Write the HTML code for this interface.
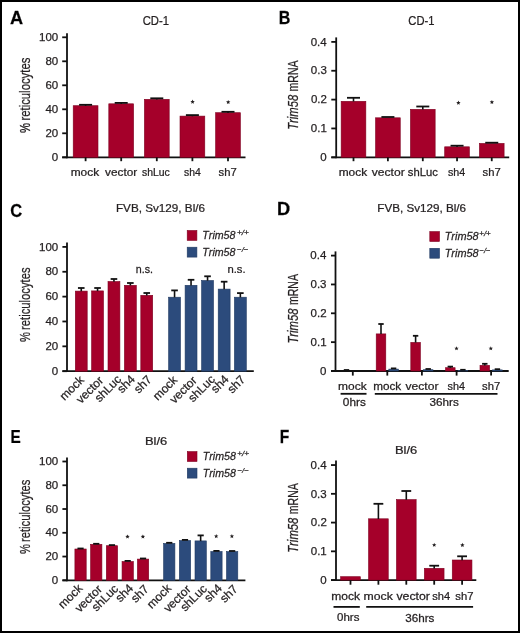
<!DOCTYPE html>
<html><head><meta charset="utf-8"><style>
html,body{margin:0;padding:0;background:#fff;}
body{width:520px;height:633px;overflow:hidden;}
svg{display:block;font-family:"Liberation Sans", sans-serif;font-kerning:none;will-change:transform;}
text{stroke:#231f20;stroke-width:0.25px;}
</style></head><body>
<svg width="520" height="633" viewBox="0 0 520 633">
<rect x="0" y="0" width="520" height="633" fill="#fff"/>
<rect x="1" y="1" width="518" height="631" fill="none" stroke="#000" stroke-width="2"/>
<text transform="translate(9.95,23.70) scale(1.0216,1)" font-size="17.8" font-weight="bold" fill="#000">A</text>
<text transform="translate(278.73,23.70) scale(0.9028,1)" font-size="17.8" font-weight="bold" fill="#000">B</text>
<text transform="translate(10.32,216.90) scale(0.9280,1)" font-size="17.8" font-weight="bold" fill="#000">C</text>
<text transform="translate(276.88,214.50) scale(1.0260,1)" font-size="17.8" font-weight="bold" fill="#000">D</text>
<text transform="translate(10.47,442.80) scale(0.8612,1)" font-size="17.8" font-weight="bold" fill="#000">E</text>
<text transform="translate(279.86,442.60) scale(0.8748,1)" font-size="17.8" font-weight="bold" fill="#000">F</text>
<line x1="67.00" y1="33.30" x2="67.00" y2="158.20" stroke="#111" stroke-width="1.8"/>
<line x1="62.20" y1="157.30" x2="67.00" y2="157.30" stroke="#111" stroke-width="1.8"/>
<text transform="translate(51.85,161.00) scale(1.0000,1)" font-size="11.5"  fill="#231f20">0</text>
<line x1="62.20" y1="133.30" x2="67.00" y2="133.30" stroke="#111" stroke-width="1.8"/>
<text transform="translate(45.46,137.00) scale(1.0000,1)" font-size="11.5"  fill="#231f20">20</text>
<line x1="62.20" y1="109.30" x2="67.00" y2="109.30" stroke="#111" stroke-width="1.8"/>
<text transform="translate(45.46,113.00) scale(1.0000,1)" font-size="11.5"  fill="#231f20">40</text>
<line x1="62.20" y1="85.30" x2="67.00" y2="85.30" stroke="#111" stroke-width="1.8"/>
<text transform="translate(45.46,89.00) scale(1.0000,1)" font-size="11.5"  fill="#231f20">60</text>
<line x1="62.20" y1="61.30" x2="67.00" y2="61.30" stroke="#111" stroke-width="1.8"/>
<text transform="translate(45.46,65.00) scale(1.0000,1)" font-size="11.5"  fill="#231f20">80</text>
<line x1="62.20" y1="37.30" x2="67.00" y2="37.30" stroke="#111" stroke-width="1.8"/>
<text transform="translate(39.06,41.00) scale(1.0000,1)" font-size="11.5"  fill="#231f20">100</text>
<line x1="62.20" y1="157.30" x2="245.50" y2="157.30" stroke="#111" stroke-width="1.8"/>
<rect x="73.20" y="105.70" width="24.80" height="51.60" fill="#a5002a" stroke="#7e0020" stroke-width="0.6"/>
<line x1="85.60" y1="104.80" x2="85.60" y2="105.90" stroke="#111" stroke-width="1.6"/>
<line x1="79.10" y1="104.80" x2="92.10" y2="104.80" stroke="#111" stroke-width="1.8"/>
<line x1="85.60" y1="157.30" x2="85.60" y2="161.20" stroke="#111" stroke-width="1.8"/>
<rect x="108.80" y="103.80" width="24.80" height="53.50" fill="#a5002a" stroke="#7e0020" stroke-width="0.6"/>
<line x1="121.20" y1="102.90" x2="121.20" y2="104.00" stroke="#111" stroke-width="1.6"/>
<line x1="114.70" y1="102.90" x2="127.70" y2="102.90" stroke="#111" stroke-width="1.8"/>
<line x1="121.20" y1="157.30" x2="121.20" y2="161.20" stroke="#111" stroke-width="1.8"/>
<rect x="144.40" y="99.30" width="24.80" height="58.00" fill="#a5002a" stroke="#7e0020" stroke-width="0.6"/>
<line x1="156.80" y1="98.30" x2="156.80" y2="99.50" stroke="#111" stroke-width="1.6"/>
<line x1="150.30" y1="98.30" x2="163.30" y2="98.30" stroke="#111" stroke-width="1.8"/>
<line x1="156.80" y1="157.30" x2="156.80" y2="161.20" stroke="#111" stroke-width="1.8"/>
<rect x="180.00" y="116.10" width="24.80" height="41.20" fill="#a5002a" stroke="#7e0020" stroke-width="0.6"/>
<line x1="192.40" y1="115.10" x2="192.40" y2="116.30" stroke="#111" stroke-width="1.6"/>
<line x1="185.90" y1="115.10" x2="198.90" y2="115.10" stroke="#111" stroke-width="1.8"/>
<line x1="192.40" y1="157.30" x2="192.40" y2="161.20" stroke="#111" stroke-width="1.8"/>
<rect x="215.60" y="112.70" width="24.80" height="44.60" fill="#a5002a" stroke="#7e0020" stroke-width="0.6"/>
<line x1="228.00" y1="111.80" x2="228.00" y2="112.90" stroke="#111" stroke-width="1.6"/>
<line x1="221.50" y1="111.80" x2="234.50" y2="111.80" stroke="#111" stroke-width="1.8"/>
<line x1="228.00" y1="157.30" x2="228.00" y2="161.20" stroke="#111" stroke-width="1.8"/>
<text transform="translate(70.71,176.20) scale(1.0835,1)" font-size="11"  fill="#231f20">mock</text>
<text transform="translate(105.06,176.20) scale(1.0728,1)" font-size="11"  fill="#231f20">vector</text>
<text transform="translate(141.91,176.20) scale(0.9493,1)" font-size="11"  fill="#231f20">shLuc</text>
<text transform="translate(184.01,176.20) scale(0.9470,1)" font-size="11"  fill="#231f20">sh4</text>
<text transform="translate(218.59,176.20) scale(1.0251,1)" font-size="11"  fill="#231f20">sh7</text>
<polygon points="192.60,99.60 193.21,101.06 194.79,101.19 193.58,102.22 193.95,103.76 192.60,102.94 191.25,103.76 191.62,102.22 190.41,101.19 191.99,101.06" fill="#231f20"/>
<polygon points="228.20,99.90 228.81,101.36 230.39,101.49 229.18,102.52 229.55,104.06 228.20,103.23 226.85,104.06 227.22,102.52 226.01,101.49 227.59,101.36" fill="#231f20"/>
<text transform="translate(142.63,25.00) scale(0.9401,1)" font-size="12"  fill="#231f20">CD-1</text>
<text transform="translate(29.80,120.55) rotate(-90) scale(0.7807,1)" fill="#231f20"><tspan  font-size="14.5">reticulocytes</tspan></text>
<text transform="translate(29.90,132.90) rotate(-90) scale(0.7499,1)" fill="#231f20"><tspan  font-size="15">%</tspan></text>
<line x1="336.20" y1="37.40" x2="336.20" y2="158.20" stroke="#111" stroke-width="1.8"/>
<line x1="331.30" y1="157.30" x2="336.20" y2="157.30" stroke="#111" stroke-width="1.8"/>
<text transform="translate(320.35,161.00) scale(1.0000,1)" font-size="11.5"  fill="#231f20">0</text>
<line x1="331.30" y1="128.45" x2="336.20" y2="128.45" stroke="#111" stroke-width="1.8"/>
<text transform="translate(310.87,132.15) scale(1.0000,1)" font-size="11.5"  fill="#231f20">0.1</text>
<line x1="331.30" y1="99.60" x2="336.20" y2="99.60" stroke="#111" stroke-width="1.8"/>
<text transform="translate(310.89,103.30) scale(1.0000,1)" font-size="11.5"  fill="#231f20">0.2</text>
<line x1="331.30" y1="70.75" x2="336.20" y2="70.75" stroke="#111" stroke-width="1.8"/>
<text transform="translate(310.82,74.45) scale(1.0000,1)" font-size="11.5"  fill="#231f20">0.3</text>
<line x1="331.30" y1="41.90" x2="336.20" y2="41.90" stroke="#111" stroke-width="1.8"/>
<text transform="translate(310.65,45.60) scale(1.0000,1)" font-size="11.5"  fill="#231f20">0.4</text>
<line x1="331.30" y1="157.30" x2="509.20" y2="157.30" stroke="#111" stroke-width="1.8"/>
<rect x="341.15" y="101.30" width="24.70" height="56.00" fill="#a5002a" stroke="#7e0020" stroke-width="0.6"/>
<line x1="353.50" y1="97.80" x2="353.50" y2="101.50" stroke="#111" stroke-width="1.6"/>
<line x1="347.00" y1="97.80" x2="360.00" y2="97.80" stroke="#111" stroke-width="1.8"/>
<line x1="353.50" y1="157.30" x2="353.50" y2="161.20" stroke="#111" stroke-width="1.8"/>
<rect x="375.55" y="117.80" width="24.70" height="39.50" fill="#a5002a" stroke="#7e0020" stroke-width="0.6"/>
<line x1="381.40" y1="117.00" x2="394.40" y2="117.00" stroke="#111" stroke-width="1.8"/>
<line x1="387.90" y1="157.30" x2="387.90" y2="161.20" stroke="#111" stroke-width="1.8"/>
<rect x="410.45" y="109.30" width="24.70" height="48.00" fill="#a5002a" stroke="#7e0020" stroke-width="0.6"/>
<line x1="422.80" y1="106.50" x2="422.80" y2="109.50" stroke="#111" stroke-width="1.6"/>
<line x1="416.30" y1="106.50" x2="429.30" y2="106.50" stroke="#111" stroke-width="1.8"/>
<line x1="422.80" y1="157.30" x2="422.80" y2="161.20" stroke="#111" stroke-width="1.8"/>
<rect x="444.70" y="146.80" width="24.70" height="10.50" fill="#a5002a" stroke="#7e0020" stroke-width="0.6"/>
<line x1="457.05" y1="145.70" x2="457.05" y2="147.00" stroke="#111" stroke-width="1.6"/>
<line x1="450.55" y1="145.70" x2="463.55" y2="145.70" stroke="#111" stroke-width="1.8"/>
<line x1="457.05" y1="157.30" x2="457.05" y2="161.20" stroke="#111" stroke-width="1.8"/>
<rect x="479.40" y="143.40" width="24.70" height="13.90" fill="#a5002a" stroke="#7e0020" stroke-width="0.6"/>
<line x1="485.25" y1="142.70" x2="498.25" y2="142.70" stroke="#111" stroke-width="1.8"/>
<line x1="491.75" y1="157.30" x2="491.75" y2="161.20" stroke="#111" stroke-width="1.8"/>
<text transform="translate(338.71,176.20) scale(1.0835,1)" font-size="11"  fill="#231f20">mock</text>
<text transform="translate(371.76,176.20) scale(1.0997,1)" font-size="11"  fill="#231f20">vector</text>
<text transform="translate(407.79,176.20) scale(1.0224,1)" font-size="11"  fill="#231f20">shLuc</text>
<text transform="translate(448.00,176.20) scale(0.9762,1)" font-size="11"  fill="#231f20">sh4</text>
<text transform="translate(482.59,176.20) scale(1.0251,1)" font-size="11"  fill="#231f20">sh7</text>
<polygon points="458.40,100.60 459.01,102.06 460.59,102.19 459.38,103.22 459.75,104.76 458.40,103.94 457.05,104.76 457.42,103.22 456.21,102.19 457.79,102.06" fill="#231f20"/>
<polygon points="491.90,99.90 492.51,101.36 494.09,101.49 492.88,102.52 493.25,104.06 491.90,103.23 490.55,104.06 490.92,102.52 489.71,101.49 491.29,101.36" fill="#231f20"/>
<text transform="translate(408.33,25.00) scale(0.9326,1)" font-size="12"  fill="#231f20">CD-1</text>
<text transform="translate(298.40,91.50) rotate(-90) scale(0.7290,1)" fill="#231f20"><tspan  font-size="14.5">mRNA</tspan></text>
<text transform="translate(298.40,129.81) rotate(-90) scale(0.7753,1)" fill="#231f20"><tspan font-style="italic" font-size="14.5">Trim58</tspan></text>
<line x1="67.00" y1="242.40" x2="67.00" y2="372.10" stroke="#111" stroke-width="1.8"/>
<line x1="62.40" y1="371.20" x2="67.00" y2="371.20" stroke="#111" stroke-width="1.8"/>
<text transform="translate(51.85,374.90) scale(1.0000,1)" font-size="11.5"  fill="#231f20">0</text>
<line x1="62.40" y1="346.34" x2="67.00" y2="346.34" stroke="#111" stroke-width="1.8"/>
<text transform="translate(45.46,350.04) scale(1.0000,1)" font-size="11.5"  fill="#231f20">20</text>
<line x1="62.40" y1="321.48" x2="67.00" y2="321.48" stroke="#111" stroke-width="1.8"/>
<text transform="translate(45.46,325.18) scale(1.0000,1)" font-size="11.5"  fill="#231f20">40</text>
<line x1="62.40" y1="296.62" x2="67.00" y2="296.62" stroke="#111" stroke-width="1.8"/>
<text transform="translate(45.46,300.32) scale(1.0000,1)" font-size="11.5"  fill="#231f20">60</text>
<line x1="62.40" y1="271.76" x2="67.00" y2="271.76" stroke="#111" stroke-width="1.8"/>
<text transform="translate(45.46,275.46) scale(1.0000,1)" font-size="11.5"  fill="#231f20">80</text>
<line x1="62.40" y1="246.90" x2="67.00" y2="246.90" stroke="#111" stroke-width="1.8"/>
<text transform="translate(39.06,250.60) scale(1.0000,1)" font-size="11.5"  fill="#231f20">100</text>
<line x1="62.40" y1="371.20" x2="253.80" y2="371.20" stroke="#111" stroke-width="1.8"/>
<rect x="75.30" y="291.10" width="11.90" height="80.10" fill="#a5002a" stroke="#7e0020" stroke-width="0.6"/>
<line x1="81.25" y1="288.00" x2="81.25" y2="291.30" stroke="#111" stroke-width="1.6"/>
<line x1="77.95" y1="288.00" x2="84.55" y2="288.00" stroke="#111" stroke-width="1.8"/>
<rect x="91.60" y="290.90" width="11.90" height="80.30" fill="#a5002a" stroke="#7e0020" stroke-width="0.6"/>
<line x1="97.55" y1="288.00" x2="97.55" y2="291.10" stroke="#111" stroke-width="1.6"/>
<line x1="94.25" y1="288.00" x2="100.85" y2="288.00" stroke="#111" stroke-width="1.8"/>
<rect x="108.00" y="281.50" width="11.90" height="89.70" fill="#a5002a" stroke="#7e0020" stroke-width="0.6"/>
<line x1="113.95" y1="279.00" x2="113.95" y2="281.70" stroke="#111" stroke-width="1.6"/>
<line x1="110.65" y1="279.00" x2="117.25" y2="279.00" stroke="#111" stroke-width="1.8"/>
<rect x="124.40" y="285.30" width="11.90" height="85.90" fill="#a5002a" stroke="#7e0020" stroke-width="0.6"/>
<line x1="130.35" y1="283.00" x2="130.35" y2="285.50" stroke="#111" stroke-width="1.6"/>
<line x1="127.05" y1="283.00" x2="133.65" y2="283.00" stroke="#111" stroke-width="1.8"/>
<rect x="140.80" y="295.30" width="11.90" height="75.90" fill="#a5002a" stroke="#7e0020" stroke-width="0.6"/>
<line x1="146.75" y1="293.00" x2="146.75" y2="295.50" stroke="#111" stroke-width="1.6"/>
<line x1="143.45" y1="293.00" x2="150.05" y2="293.00" stroke="#111" stroke-width="1.8"/>
<rect x="168.60" y="297.20" width="11.90" height="74.00" fill="#2c4b7c" stroke="#213a62" stroke-width="0.6"/>
<line x1="174.55" y1="290.40" x2="174.55" y2="297.40" stroke="#111" stroke-width="1.6"/>
<line x1="171.25" y1="290.40" x2="177.85" y2="290.40" stroke="#111" stroke-width="1.8"/>
<rect x="185.10" y="285.30" width="11.90" height="85.90" fill="#2c4b7c" stroke="#213a62" stroke-width="0.6"/>
<line x1="191.05" y1="279.80" x2="191.05" y2="285.50" stroke="#111" stroke-width="1.6"/>
<line x1="187.75" y1="279.80" x2="194.35" y2="279.80" stroke="#111" stroke-width="1.8"/>
<rect x="201.60" y="280.50" width="11.90" height="90.70" fill="#2c4b7c" stroke="#213a62" stroke-width="0.6"/>
<line x1="207.55" y1="276.30" x2="207.55" y2="280.70" stroke="#111" stroke-width="1.6"/>
<line x1="204.25" y1="276.30" x2="210.85" y2="276.30" stroke="#111" stroke-width="1.8"/>
<rect x="218.20" y="289.10" width="11.90" height="82.10" fill="#2c4b7c" stroke="#213a62" stroke-width="0.6"/>
<line x1="224.15" y1="281.70" x2="224.15" y2="289.30" stroke="#111" stroke-width="1.6"/>
<line x1="220.85" y1="281.70" x2="227.45" y2="281.70" stroke="#111" stroke-width="1.8"/>
<rect x="234.40" y="297.20" width="11.90" height="74.00" fill="#2c4b7c" stroke="#213a62" stroke-width="0.6"/>
<line x1="240.35" y1="293.10" x2="240.35" y2="297.40" stroke="#111" stroke-width="1.6"/>
<line x1="237.05" y1="293.10" x2="243.65" y2="293.10" stroke="#111" stroke-width="1.8"/>
<text transform="translate(135.69,273.00) scale(0.9753,1)" font-size="11"  fill="#231f20">n.s.</text>
<text transform="translate(227.45,272.80) scale(1.0253,1)" font-size="11"  fill="#231f20">n.s.</text>
<text transform="translate(84.79,380.71) rotate(-45) scale(1.0000,1)" x="-28.67" font-size="12" fill="#231f20">mock</text>
<text transform="translate(104.13,381.22) rotate(-45) scale(1.0000,1)" x="-32.68" font-size="12" fill="#231f20">vector</text>
<text transform="translate(122.07,380.09) rotate(-45) scale(1.0000,1)" x="-32.02" font-size="12" fill="#231f20">shLuc</text>
<text transform="translate(135.62,380.11) rotate(-45) scale(1.0000,1)" x="-19.35" font-size="12" fill="#231f20">sh4</text>
<text transform="translate(152.35,380.24) rotate(-45) scale(1.0000,1)" x="-19.35" font-size="12" fill="#231f20">sh7</text>
<text transform="translate(178.09,380.71) rotate(-45) scale(1.0000,1)" x="-28.67" font-size="12" fill="#231f20">mock</text>
<text transform="translate(197.63,381.22) rotate(-45) scale(1.0000,1)" x="-32.68" font-size="12" fill="#231f20">vector</text>
<text transform="translate(215.67,380.09) rotate(-45) scale(1.0000,1)" x="-32.02" font-size="12" fill="#231f20">shLuc</text>
<text transform="translate(229.42,380.11) rotate(-45) scale(1.0000,1)" x="-19.35" font-size="12" fill="#231f20">sh4</text>
<text transform="translate(245.95,380.24) rotate(-45) scale(1.0000,1)" x="-19.35" font-size="12" fill="#231f20">sh7</text>
<text transform="translate(115.94,211.70) scale(1.0352,1)" font-size="11.3"  fill="#231f20">FVB, Sv129, Bl/6</text>
<text transform="translate(29.80,329.95) rotate(-90) scale(0.7775,1)" fill="#231f20"><tspan  font-size="14.5">reticulocytes</tspan></text>
<text transform="translate(29.90,342.10) rotate(-90) scale(0.7418,1)" fill="#231f20"><tspan  font-size="15">%</tspan></text>
<rect x="187.20" y="230.50" width="9.70" height="9.90" fill="#a5002a" stroke="#7e0020" stroke-width="0.6"/>
<rect x="187.20" y="247.20" width="9.70" height="9.90" fill="#2c4b7c" stroke="#213a62" stroke-width="0.6"/>
<text transform="translate(202.34,239.10) scale(0.9256,1)" font-size="11.5" font-style="italic" fill="#231f20">Trim58</text>
<text transform="translate(236.88,235.10) scale(1.0203,1)" font-size="8" font-style="italic" fill="#231f20">+/+</text>
<text transform="translate(202.34,256.00) scale(0.9256,1)" font-size="11.5" font-style="italic" fill="#231f20">Trim58</text>
<text transform="translate(237.10,252.00) scale(0.9739,1)" font-size="8" font-style="italic" fill="#231f20">−/−</text>
<line x1="335.50" y1="251.40" x2="335.50" y2="371.90" stroke="#111" stroke-width="1.8"/>
<line x1="331.00" y1="371.00" x2="335.50" y2="371.00" stroke="#111" stroke-width="1.8"/>
<text transform="translate(320.05,374.70) scale(1.0000,1)" font-size="11.5"  fill="#231f20">0</text>
<line x1="331.00" y1="342.15" x2="335.50" y2="342.15" stroke="#111" stroke-width="1.8"/>
<text transform="translate(310.57,345.85) scale(1.0000,1)" font-size="11.5"  fill="#231f20">0.1</text>
<line x1="331.00" y1="313.30" x2="335.50" y2="313.30" stroke="#111" stroke-width="1.8"/>
<text transform="translate(310.59,317.00) scale(1.0000,1)" font-size="11.5"  fill="#231f20">0.2</text>
<line x1="331.00" y1="284.45" x2="335.50" y2="284.45" stroke="#111" stroke-width="1.8"/>
<text transform="translate(310.52,288.15) scale(1.0000,1)" font-size="11.5"  fill="#231f20">0.3</text>
<line x1="331.00" y1="255.60" x2="335.50" y2="255.60" stroke="#111" stroke-width="1.8"/>
<text transform="translate(310.35,259.30) scale(1.0000,1)" font-size="11.5"  fill="#231f20">0.4</text>
<line x1="331.00" y1="371.00" x2="508.70" y2="371.00" stroke="#111" stroke-width="1.8"/>
<line x1="346.50" y1="370.00" x2="346.50" y2="371.50" stroke="#111" stroke-width="1.6"/>
<line x1="343.80" y1="370.00" x2="349.20" y2="370.00" stroke="#111" stroke-width="1.8"/>
<line x1="352.80" y1="371.00" x2="352.80" y2="375.60" stroke="#111" stroke-width="1.8"/>
<rect x="376.20" y="333.90" width="9.60" height="37.10" fill="#a5002a" stroke="#7e0020" stroke-width="0.6"/>
<line x1="381.00" y1="324.00" x2="381.00" y2="334.10" stroke="#111" stroke-width="1.6"/>
<line x1="378.30" y1="324.00" x2="383.70" y2="324.00" stroke="#111" stroke-width="1.8"/>
<rect x="388.80" y="369.10" width="9.60" height="1.90" fill="#2c4b7c" stroke="#213a62" stroke-width="0.6"/>
<line x1="390.90" y1="368.40" x2="396.30" y2="368.40" stroke="#111" stroke-width="1.8"/>
<line x1="387.30" y1="371.00" x2="387.30" y2="375.60" stroke="#111" stroke-width="1.8"/>
<rect x="410.80" y="342.40" width="9.60" height="28.60" fill="#a5002a" stroke="#7e0020" stroke-width="0.6"/>
<line x1="415.60" y1="335.80" x2="415.60" y2="342.60" stroke="#111" stroke-width="1.6"/>
<line x1="412.90" y1="335.80" x2="418.30" y2="335.80" stroke="#111" stroke-width="1.8"/>
<rect x="423.40" y="369.70" width="9.60" height="1.30" fill="#2c4b7c" stroke="#213a62" stroke-width="0.6"/>
<line x1="425.50" y1="369.00" x2="430.90" y2="369.00" stroke="#111" stroke-width="1.8"/>
<line x1="421.90" y1="371.00" x2="421.90" y2="375.60" stroke="#111" stroke-width="1.8"/>
<rect x="445.50" y="367.70" width="9.60" height="3.30" fill="#a5002a" stroke="#7e0020" stroke-width="0.6"/>
<line x1="450.30" y1="366.60" x2="450.30" y2="367.90" stroke="#111" stroke-width="1.6"/>
<line x1="447.60" y1="366.60" x2="453.00" y2="366.60" stroke="#111" stroke-width="1.8"/>
<rect x="458.10" y="370.50" width="9.60" height="0.50" fill="#2c4b7c" stroke="#213a62" stroke-width="0.6"/>
<line x1="460.20" y1="369.80" x2="465.60" y2="369.80" stroke="#111" stroke-width="1.8"/>
<line x1="456.60" y1="371.00" x2="456.60" y2="375.60" stroke="#111" stroke-width="1.8"/>
<rect x="480.00" y="365.30" width="9.60" height="5.70" fill="#a5002a" stroke="#7e0020" stroke-width="0.6"/>
<line x1="484.80" y1="363.80" x2="484.80" y2="365.50" stroke="#111" stroke-width="1.6"/>
<line x1="482.10" y1="363.80" x2="487.50" y2="363.80" stroke="#111" stroke-width="1.8"/>
<rect x="492.60" y="369.90" width="9.60" height="1.10" fill="#2c4b7c" stroke="#213a62" stroke-width="0.6"/>
<line x1="494.70" y1="369.20" x2="500.10" y2="369.20" stroke="#111" stroke-width="1.8"/>
<line x1="491.10" y1="371.00" x2="491.10" y2="375.60" stroke="#111" stroke-width="1.8"/>
<polygon points="456.50,346.20 457.11,347.66 458.69,347.79 457.48,348.82 457.85,350.36 456.50,349.54 455.15,350.36 455.52,348.82 454.31,347.79 455.89,347.66" fill="#231f20"/>
<polygon points="490.80,346.20 491.41,347.66 492.99,347.79 491.78,348.82 492.15,350.36 490.80,349.54 489.45,350.36 489.82,348.82 488.61,347.79 490.19,347.66" fill="#231f20"/>
<text transform="translate(338.11,390.20) scale(1.0874,1)" font-size="11"  fill="#231f20">mock</text>
<text transform="translate(373.22,390.20) scale(1.0678,1)" font-size="11"  fill="#231f20">mock</text>
<text transform="translate(405.56,390.20) scale(1.0997,1)" font-size="11"  fill="#231f20">vector</text>
<text transform="translate(447.60,390.20) scale(0.9879,1)" font-size="11"  fill="#231f20">sh4</text>
<text transform="translate(482.09,390.20) scale(1.0251,1)" font-size="11"  fill="#231f20">sh7</text>
<line x1="340.60" y1="393.80" x2="366.50" y2="393.80" stroke="#111" stroke-width="1.8"/>
<line x1="374.80" y1="393.80" x2="497.50" y2="393.80" stroke="#111" stroke-width="1.8"/>
<text transform="translate(342.84,405.50) scale(1.0743,1)" font-size="11"  fill="#231f20">0hrs</text>
<text transform="translate(429.55,405.50) scale(1.0674,1)" font-size="11"  fill="#231f20">36hrs</text>
<text transform="translate(377.34,212.00) scale(1.0328,1)" font-size="11.3"  fill="#231f20">FVB, Sv129, Bl/6</text>
<rect x="429.80" y="231.60" width="9.70" height="9.90" fill="#a5002a" stroke="#7e0020" stroke-width="0.6"/>
<rect x="429.80" y="248.30" width="9.70" height="9.90" fill="#2c4b7c" stroke="#213a62" stroke-width="0.6"/>
<text transform="translate(444.72,240.00) scale(0.9487,1)" font-size="11.5" font-style="italic" fill="#231f20">Trim58</text>
<text transform="translate(479.30,236.00) scale(0.9832,1)" font-size="8" font-style="italic" fill="#231f20">+/+</text>
<text transform="translate(444.72,256.60) scale(0.9487,1)" font-size="11.5" font-style="italic" fill="#231f20">Trim58</text>
<text transform="translate(479.52,252.60) scale(0.9368,1)" font-size="8" font-style="italic" fill="#231f20">−/−</text>
<text transform="translate(298.20,305.10) rotate(-90) scale(0.7290,1)" fill="#231f20"><tspan  font-size="14.5">mRNA</tspan></text>
<text transform="translate(298.20,343.51) rotate(-90) scale(0.7776,1)" fill="#231f20"><tspan font-style="italic" font-size="14.5">Trim58</tspan></text>
<line x1="67.00" y1="457.40" x2="67.00" y2="581.20" stroke="#111" stroke-width="1.8"/>
<line x1="62.40" y1="580.30" x2="67.00" y2="580.30" stroke="#111" stroke-width="1.8"/>
<text transform="translate(51.85,584.00) scale(1.0000,1)" font-size="11.5"  fill="#231f20">0</text>
<line x1="62.40" y1="556.54" x2="67.00" y2="556.54" stroke="#111" stroke-width="1.8"/>
<text transform="translate(45.46,560.24) scale(1.0000,1)" font-size="11.5"  fill="#231f20">20</text>
<line x1="62.40" y1="532.78" x2="67.00" y2="532.78" stroke="#111" stroke-width="1.8"/>
<text transform="translate(45.46,536.48) scale(1.0000,1)" font-size="11.5"  fill="#231f20">40</text>
<line x1="62.40" y1="509.02" x2="67.00" y2="509.02" stroke="#111" stroke-width="1.8"/>
<text transform="translate(45.46,512.72) scale(1.0000,1)" font-size="11.5"  fill="#231f20">60</text>
<line x1="62.40" y1="485.26" x2="67.00" y2="485.26" stroke="#111" stroke-width="1.8"/>
<text transform="translate(45.46,488.96) scale(1.0000,1)" font-size="11.5"  fill="#231f20">80</text>
<line x1="62.40" y1="461.50" x2="67.00" y2="461.50" stroke="#111" stroke-width="1.8"/>
<text transform="translate(39.06,465.20) scale(1.0000,1)" font-size="11.5"  fill="#231f20">100</text>
<line x1="62.40" y1="580.30" x2="245.40" y2="580.30" stroke="#111" stroke-width="1.8"/>
<rect x="74.90" y="549.00" width="11.30" height="31.30" fill="#a5002a" stroke="#7e0020" stroke-width="0.6"/>
<line x1="77.45" y1="548.50" x2="83.65" y2="548.50" stroke="#111" stroke-width="1.8"/>
<rect x="90.60" y="544.30" width="11.30" height="36.00" fill="#a5002a" stroke="#7e0020" stroke-width="0.6"/>
<line x1="93.15" y1="543.80" x2="99.35" y2="543.80" stroke="#111" stroke-width="1.8"/>
<rect x="106.30" y="545.70" width="11.30" height="34.60" fill="#a5002a" stroke="#7e0020" stroke-width="0.6"/>
<line x1="108.85" y1="545.10" x2="115.05" y2="545.10" stroke="#111" stroke-width="1.8"/>
<rect x="122.05" y="561.50" width="11.30" height="18.80" fill="#a5002a" stroke="#7e0020" stroke-width="0.6"/>
<line x1="124.60" y1="560.90" x2="130.80" y2="560.90" stroke="#111" stroke-width="1.8"/>
<rect x="137.40" y="559.10" width="11.30" height="21.20" fill="#a5002a" stroke="#7e0020" stroke-width="0.6"/>
<line x1="139.95" y1="558.50" x2="146.15" y2="558.50" stroke="#111" stroke-width="1.8"/>
<rect x="163.60" y="543.40" width="11.30" height="36.90" fill="#2c4b7c" stroke="#213a62" stroke-width="0.6"/>
<line x1="166.15" y1="542.80" x2="172.35" y2="542.80" stroke="#111" stroke-width="1.8"/>
<rect x="179.35" y="540.50" width="11.30" height="39.80" fill="#2c4b7c" stroke="#213a62" stroke-width="0.6"/>
<line x1="181.90" y1="539.90" x2="188.10" y2="539.90" stroke="#111" stroke-width="1.8"/>
<rect x="195.00" y="540.90" width="11.30" height="39.40" fill="#2c4b7c" stroke="#213a62" stroke-width="0.6"/>
<line x1="200.65" y1="535.40" x2="200.65" y2="541.10" stroke="#111" stroke-width="1.6"/>
<line x1="197.55" y1="535.40" x2="203.75" y2="535.40" stroke="#111" stroke-width="1.8"/>
<rect x="210.80" y="551.50" width="11.30" height="28.80" fill="#2c4b7c" stroke="#213a62" stroke-width="0.6"/>
<line x1="213.35" y1="550.90" x2="219.55" y2="550.90" stroke="#111" stroke-width="1.8"/>
<rect x="226.50" y="551.60" width="11.30" height="28.70" fill="#2c4b7c" stroke="#213a62" stroke-width="0.6"/>
<line x1="229.05" y1="551.00" x2="235.25" y2="551.00" stroke="#111" stroke-width="1.8"/>
<polygon points="127.50,534.40 128.11,535.86 129.69,535.99 128.48,537.02 128.85,538.56 127.50,537.74 126.15,538.56 126.52,537.02 125.31,535.99 126.89,535.86" fill="#231f20"/>
<polygon points="142.90,534.40 143.51,535.86 145.09,535.99 143.88,537.02 144.25,538.56 142.90,537.74 141.55,538.56 141.92,537.02 140.71,535.99 142.29,535.86" fill="#231f20"/>
<polygon points="216.20,534.00 216.81,535.46 218.39,535.59 217.18,536.62 217.55,538.16 216.20,537.33 214.85,538.16 215.22,536.62 214.01,535.59 215.59,535.46" fill="#231f20"/>
<polygon points="231.90,534.00 232.51,535.46 234.09,535.59 232.88,536.62 233.25,538.16 231.90,537.33 230.55,538.16 230.92,536.62 229.71,535.59 231.29,535.46" fill="#231f20"/>
<text transform="translate(83.24,589.01) rotate(-45) scale(1.0000,1)" x="-28.67" font-size="12" fill="#231f20">mock</text>
<text transform="translate(102.73,590.02) rotate(-45) scale(1.0000,1)" x="-32.68" font-size="12" fill="#231f20">vector</text>
<text transform="translate(119.07,589.39) rotate(-45) scale(1.0000,1)" x="-32.02" font-size="12" fill="#231f20">shLuc</text>
<text transform="translate(133.92,588.96) rotate(-45) scale(1.0000,1)" x="-19.35" font-size="12" fill="#231f20">sh4</text>
<text transform="translate(149.45,589.69) rotate(-45) scale(1.0000,1)" x="-19.35" font-size="12" fill="#231f20">sh7</text>
<text transform="translate(171.94,589.01) rotate(-45) scale(1.0000,1)" x="-28.67" font-size="12" fill="#231f20">mock</text>
<text transform="translate(191.48,590.02) rotate(-45) scale(1.0000,1)" x="-32.68" font-size="12" fill="#231f20">vector</text>
<text transform="translate(207.77,589.39) rotate(-45) scale(1.0000,1)" x="-32.02" font-size="12" fill="#231f20">shLuc</text>
<text transform="translate(222.67,588.96) rotate(-45) scale(1.0000,1)" x="-19.35" font-size="12" fill="#231f20">sh4</text>
<text transform="translate(238.55,589.69) rotate(-45) scale(1.0000,1)" x="-19.35" font-size="12" fill="#231f20">sh7</text>
<text transform="translate(144.94,444.80) scale(1.1270,1)" font-size="11.5"  fill="#231f20">Bl/6</text>
<rect x="187.30" y="451.60" width="9.70" height="9.90" fill="#a5002a" stroke="#7e0020" stroke-width="0.6"/>
<rect x="187.30" y="468.20" width="9.70" height="9.90" fill="#2c4b7c" stroke="#213a62" stroke-width="0.6"/>
<text transform="translate(202.74,459.50) scale(0.9256,1)" font-size="11.5" font-style="italic" fill="#231f20">Trim58</text>
<text transform="translate(237.28,455.50) scale(1.0203,1)" font-size="8" font-style="italic" fill="#231f20">+/+</text>
<text transform="translate(202.74,476.60) scale(0.9256,1)" font-size="11.5" font-style="italic" fill="#231f20">Trim58</text>
<text transform="translate(237.50,472.60) scale(0.9739,1)" font-size="8" font-style="italic" fill="#231f20">−/−</text>
<text transform="translate(29.80,542.05) rotate(-90) scale(0.7750,1)" fill="#231f20"><tspan  font-size="14.5">reticulocytes</tspan></text>
<text transform="translate(29.90,554.00) rotate(-90) scale(0.7418,1)" fill="#231f20"><tspan  font-size="15">%</tspan></text>
<line x1="336.00" y1="460.40" x2="336.00" y2="581.00" stroke="#111" stroke-width="1.8"/>
<line x1="331.00" y1="580.10" x2="336.00" y2="580.10" stroke="#111" stroke-width="1.8"/>
<text transform="translate(320.25,583.80) scale(1.0000,1)" font-size="11.5"  fill="#231f20">0</text>
<line x1="331.00" y1="551.34" x2="336.00" y2="551.34" stroke="#111" stroke-width="1.8"/>
<text transform="translate(310.77,555.04) scale(1.0000,1)" font-size="11.5"  fill="#231f20">0.1</text>
<line x1="331.00" y1="522.58" x2="336.00" y2="522.58" stroke="#111" stroke-width="1.8"/>
<text transform="translate(310.79,526.28) scale(1.0000,1)" font-size="11.5"  fill="#231f20">0.2</text>
<line x1="331.00" y1="493.82" x2="336.00" y2="493.82" stroke="#111" stroke-width="1.8"/>
<text transform="translate(310.72,497.52) scale(1.0000,1)" font-size="11.5"  fill="#231f20">0.3</text>
<line x1="331.00" y1="465.06" x2="336.00" y2="465.06" stroke="#111" stroke-width="1.8"/>
<text transform="translate(310.55,468.76) scale(1.0000,1)" font-size="11.5"  fill="#231f20">0.4</text>
<line x1="331.00" y1="580.10" x2="476.30" y2="580.10" stroke="#111" stroke-width="1.8"/>
<rect x="340.65" y="576.70" width="19.70" height="3.40" fill="#a5002a" stroke="#7e0020" stroke-width="0.6"/>
<line x1="350.50" y1="580.10" x2="350.50" y2="584.70" stroke="#111" stroke-width="1.8"/>
<rect x="368.55" y="518.80" width="19.70" height="61.30" fill="#a5002a" stroke="#7e0020" stroke-width="0.6"/>
<line x1="378.40" y1="503.80" x2="378.40" y2="519.00" stroke="#111" stroke-width="1.6"/>
<line x1="373.50" y1="503.80" x2="383.30" y2="503.80" stroke="#111" stroke-width="1.8"/>
<line x1="378.40" y1="580.10" x2="378.40" y2="584.70" stroke="#111" stroke-width="1.8"/>
<rect x="396.45" y="499.60" width="19.70" height="80.50" fill="#a5002a" stroke="#7e0020" stroke-width="0.6"/>
<line x1="406.30" y1="491.00" x2="406.30" y2="499.80" stroke="#111" stroke-width="1.6"/>
<line x1="401.40" y1="491.00" x2="411.20" y2="491.00" stroke="#111" stroke-width="1.8"/>
<line x1="406.30" y1="580.10" x2="406.30" y2="584.70" stroke="#111" stroke-width="1.8"/>
<rect x="424.35" y="568.30" width="19.70" height="11.80" fill="#a5002a" stroke="#7e0020" stroke-width="0.6"/>
<line x1="434.20" y1="565.70" x2="434.20" y2="568.50" stroke="#111" stroke-width="1.6"/>
<line x1="429.30" y1="565.70" x2="439.10" y2="565.70" stroke="#111" stroke-width="1.8"/>
<line x1="434.20" y1="580.10" x2="434.20" y2="584.70" stroke="#111" stroke-width="1.8"/>
<rect x="452.25" y="560.00" width="19.70" height="20.10" fill="#a5002a" stroke="#7e0020" stroke-width="0.6"/>
<line x1="462.10" y1="556.30" x2="462.10" y2="560.20" stroke="#111" stroke-width="1.6"/>
<line x1="457.20" y1="556.30" x2="467.00" y2="556.30" stroke="#111" stroke-width="1.8"/>
<line x1="462.10" y1="580.10" x2="462.10" y2="584.70" stroke="#111" stroke-width="1.8"/>
<polygon points="434.20,542.70 434.81,544.16 436.39,544.29 435.18,545.32 435.55,546.86 434.20,546.03 432.85,546.86 433.22,545.32 432.01,544.29 433.59,544.16" fill="#231f20"/>
<polygon points="462.40,542.80 463.01,544.26 464.59,544.39 463.38,545.42 463.75,546.96 462.40,546.13 461.05,546.96 461.42,545.42 460.21,544.39 461.79,544.26" fill="#231f20"/>
<text transform="translate(331.30,599.60) scale(1.0991,1)" font-size="11"  fill="#231f20">mock</text>
<text transform="translate(363.59,599.60) scale(1.1147,1)" font-size="11"  fill="#231f20">mock</text>
<text transform="translate(396.46,599.60) scale(1.1199,1)" font-size="11"  fill="#231f20">vector</text>
<text transform="translate(432.19,599.60) scale(1.0113,1)" font-size="11"  fill="#231f20">sh4</text>
<text transform="translate(455.29,599.60) scale(1.0251,1)" font-size="11"  fill="#231f20">sh7</text>
<line x1="333.50" y1="606.90" x2="359.80" y2="606.90" stroke="#111" stroke-width="1.8"/>
<line x1="366.20" y1="606.90" x2="473.10" y2="606.90" stroke="#111" stroke-width="1.8"/>
<text transform="translate(337.05,621.30) scale(1.0451,1)" font-size="11"  fill="#231f20">0hrs</text>
<text transform="translate(405.15,621.50) scale(1.0637,1)" font-size="11"  fill="#231f20">36hrs</text>
<text transform="translate(394.94,453.60) scale(1.1270,1)" font-size="11.5"  fill="#231f20">Bl/6</text>
<text transform="translate(298.40,514.20) rotate(-90) scale(0.7290,1)" fill="#231f20"><tspan  font-size="14.5">mRNA</tspan></text>
<text transform="translate(298.40,552.82) rotate(-90) scale(0.7821,1)" fill="#231f20"><tspan font-style="italic" font-size="14.5">Trim58</tspan></text>
</svg>
</body></html>
